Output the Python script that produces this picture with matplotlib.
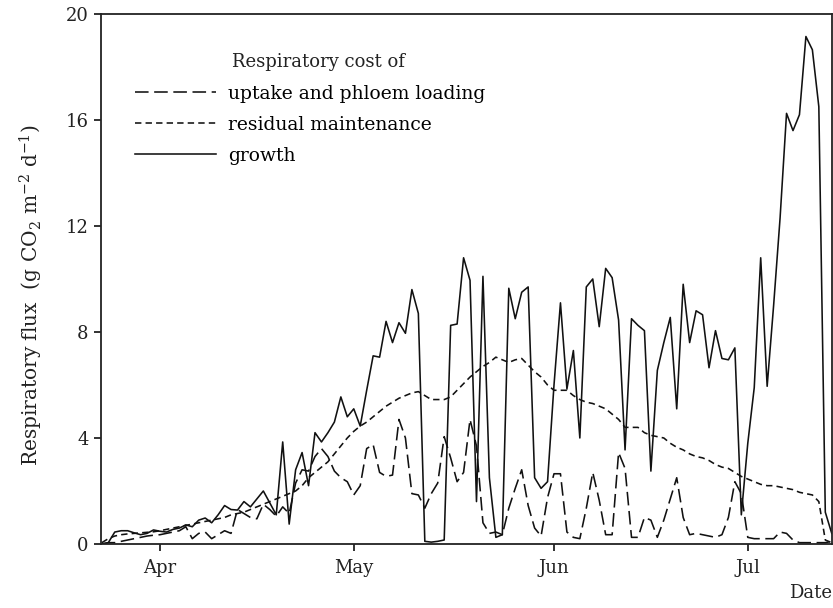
import numpy as np
import pandas as pd
import matplotlib
matplotlib.use("Agg")
import matplotlib.pyplot as plt
import matplotlib.dates as mdates
from matplotlib.lines import Line2D

plt.rcParams["font.family"] = "DejaVu Serif"
plt.rcParams["mathtext.fontset"] = "dejavuserif"

# Daily respiratory fluxes (g CO2 m-2 d-1), starting 23 March
start_date = "1990-03-23"

growth = [
    0.0, 0.05, 0.45, 0.5, 0.5, 0.42, 0.35, 0.4, 0.53, 0.48,
    0.45, 0.55, 0.6, 0.72, 0.65, 0.9, 0.98, 0.8, 1.1, 1.45,
    1.3, 1.28, 1.6, 1.4, 1.7, 2.0, 1.55, 1.1, 3.85, 0.75,
    2.8, 3.45, 2.2, 4.2, 3.85, 4.2, 4.6, 5.55, 4.8, 5.1,
    4.45, 5.8, 7.1, 7.05, 8.4, 7.6, 8.35, 7.95, 9.6, 8.7,
    0.1, 0.07, 0.1, 0.15, 8.25, 8.3, 10.8, 9.95, 1.6, 10.1,
    2.5, 0.25, 0.35, 9.65, 8.5, 9.5, 9.7, 2.5, 2.1, 2.35,
    6.0, 9.1, 5.85, 7.3, 4.0, 9.7, 10.0, 8.2, 10.4, 10.05,
    8.45, 3.55, 8.5, 8.25, 8.05, 2.75, 6.55, 7.6, 8.55, 5.1,
    9.8, 7.6, 8.8, 8.65, 6.65, 8.05, 7.0, 6.95, 7.4, 1.1,
    3.8, 5.9, 10.8, 5.95, 9.0, 12.3, 16.25, 15.6, 16.2, 19.15,
    18.65, 16.5, 1.2, 0.4,
]

uptake = [
    0.0, 0.05, 0.05, 0.1, 0.15, 0.2, 0.25, 0.3, 0.33, 0.35,
    0.4, 0.45, 0.5, 0.65, 0.2, 0.4, 0.45, 0.2, 0.35, 0.5,
    0.4, 1.3, 1.15, 1.0, 0.95, 1.5, 1.3, 1.05, 1.4, 1.15,
    2.3, 2.8, 2.75, 3.3, 3.6, 3.3, 2.75, 2.5, 2.35, 1.85,
    2.2, 3.6, 3.75, 2.7, 2.55, 2.6, 4.7, 4.0, 1.9, 1.85,
    1.35, 1.9, 2.3, 4.05, 3.25, 2.35, 2.7, 4.7, 3.7, 0.8,
    0.4, 0.45, 0.35, 1.35, 2.1, 2.8, 1.45, 0.6, 0.3, 1.75,
    2.65, 2.65, 0.45, 0.25, 0.2, 1.35, 2.7, 1.65, 0.35, 0.35,
    3.45, 2.85, 0.25, 0.25, 1.0, 0.9, 0.25, 0.9, 1.7, 2.5,
    1.0, 0.35, 0.4, 0.35, 0.3, 0.25, 0.35, 1.0, 2.35, 1.9,
    0.25, 0.2, 0.2, 0.2, 0.2, 0.45, 0.4, 0.15, 0.05, 0.05,
    0.05, 0.05, 0.05, 0.1,
]

maintenance = [
    0.05, 0.2, 0.3, 0.35, 0.38, 0.4, 0.42, 0.44, 0.46, 0.5,
    0.55, 0.6, 0.65, 0.7, 0.75, 0.8, 0.85, 0.9, 0.95, 1.0,
    1.1, 1.15, 1.2, 1.3, 1.4, 1.5, 1.6, 1.7, 1.8, 1.9,
    2.0, 2.2, 2.5, 2.7, 2.9, 3.1, 3.4, 3.7, 4.0, 4.25,
    4.45, 4.6, 4.8, 5.0, 5.2, 5.35, 5.5, 5.6, 5.7, 5.75,
    5.6, 5.45, 5.45, 5.45, 5.55, 5.8, 6.05, 6.3, 6.5, 6.7,
    6.85, 7.05, 6.95, 6.85, 6.95, 7.0, 6.75, 6.5, 6.3, 6.0,
    5.8, 5.8, 5.8, 5.6, 5.45, 5.35, 5.3, 5.2, 5.1, 4.9,
    4.7, 4.4, 4.4, 4.4, 4.2, 4.1, 4.05, 4.0, 3.8, 3.65,
    3.55, 3.4, 3.3, 3.25, 3.15, 3.0, 2.9, 2.85, 2.7, 2.55,
    2.45, 2.35, 2.25, 2.2, 2.2, 2.15, 2.1, 2.05, 1.95, 1.9,
    1.85, 1.6, 0.15, 0.05,
]

y_ticks = [0, 4, 8, 12, 16, 20]
legend_title = "Respiratory cost of"
labels = ["uptake and phloem loading", "residual maintenance", "growth"]

dates = pd.date_range(start_date, periods=len(growth), freq="D")

fig = plt.figure(figsize=(8.33, 6.08), dpi=100)
ax = fig.add_axes([0.1213, 0.1053, 0.8772, 0.8717])

ink = "#111111"
lw = 1.15
long_dash = (8.5, 3.5)
short_dash = (4.0, 2.6)

ax.plot(dates, uptake, color=ink, lw=lw, dashes=long_dash)
ax.plot(dates, maintenance, color=ink, lw=lw, dashes=short_dash)
ax.plot(dates, growth, color=ink, lw=lw)

ax.set_xlim(dates[0] - pd.Timedelta(hours=3), dates[0] + pd.Timedelta(days=113))
ax.set_ylim(0, 20)
ax.set_yticks(y_ticks)
ax.xaxis.set_major_locator(mdates.MonthLocator(bymonth=[4, 5, 6, 7]))
ax.xaxis.set_major_formatter(mdates.DateFormatter("%b"))

for s in ax.spines.values():
    s.set_linewidth(1.3)
    s.set_color("#222222")
ax.tick_params(axis="both", direction="out", length=5, width=1.3,
               labelsize=13, colors="#222222", pad=4)
ax.tick_params(axis="x", pad=6)

ax.set_ylabel(r"Respiratory flux  (g CO$_2$ m$^{-2}$ d$^{-1}$)",
              fontsize=14.5, color="#222222")
ax.yaxis.set_label_coords(-0.077, 0.47)
ax.set_xlabel("Date", fontsize=13, color="#222222", loc="right", labelpad=5)

handles = [
    Line2D([], [], color=ink, lw=lw, dashes=long_dash),
    Line2D([], [], color=ink, lw=lw, dashes=short_dash),
    Line2D([], [], color=ink, lw=lw),
]
ax.legend(handles, labels, loc="upper left", bbox_to_anchor=(0.0465, 0.866),
          frameon=False, borderpad=0, borderaxespad=0, fontsize=13.5,
          handlelength=4.3, handletextpad=0.68, labelspacing=0.68)
ax.text(0.179, 0.909, legend_title, transform=ax.transAxes, fontsize=13,
        va="center", ha="left", color="#222222")

fig.savefig("out.png", dpi=100)
